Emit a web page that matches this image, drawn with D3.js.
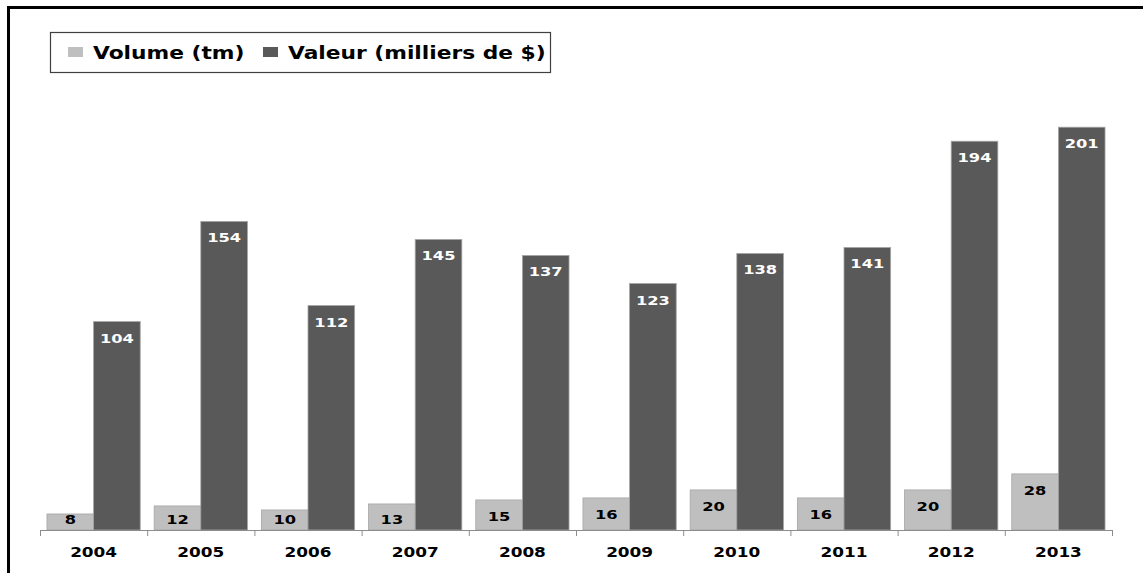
<!DOCTYPE html>
<html>
<head>
<meta charset="utf-8">
<script src="https://cdn.jsdelivr.net/npm/d3@7"></script>
<style>
  body { margin: 0; background: #fff; }
  text { font-family: "DejaVu Sans", sans-serif; font-weight: bold; }
</style>
</head>
<body>
<div id="chart"></div>
<script>
// data
const years = ["2004", "2005", "2006", "2007", "2008", "2009", "2010", "2011", "2012", "2013"];
const volume = [8, 12, 10, 13, 15, 16, 20, 16, 20, 28];
const valeur = [104, 154, 112, 145, 137, 123, 138, 141, 194, 201];
const seriesNames = ["Volume (tm)", "Valeur (milliers de $)"];
const seriesColors = ["#bfbfbf", "#595959"];

const width = 1143, height = 573;
const stretch = 1.25; // text in the source is drawn wide

const svg = d3.select("#chart").append("svg")
    .attr("width", width)
    .attr("height", height);

// frame (only top and left edges are visible)
svg.append("line").attr("x1", 7).attr("x2", width).attr("y1", 7.5).attr("y2", 7.5)
    .attr("stroke", "#000").attr("stroke-width", 3);
svg.append("line").attr("x1", 8.5).attr("x2", 8.5).attr("y1", 6).attr("y2", height)
    .attr("stroke", "#000").attr("stroke-width", 3);

const x = d3.scaleBand().domain(years).range([40, 1112])
    .paddingInner(0.13).paddingOuter(0.065);
const xs = d3.scaleBand().domain([0, 1]).range([0, x.bandwidth()]);
const y = d3.scaleLinear().domain([0, 250]).range([530, 29]);

const rows = years.map((yr, i) => ({ year: yr, values: [volume[i], valeur[i]] }));

const groups = svg.selectAll(".grp").data(rows).enter().append("g")
    .attr("class", "grp")
    .attr("transform", d => `translate(${x(d.year)},0)`);

groups.selectAll("rect").data(d => d.values).enter().append("rect")
    .attr("x", (d, i) => xs(i))
    .attr("y", d => y(d))
    .attr("width", xs.bandwidth())
    .attr("height", d => y(0) - y(d))
    .attr("fill", (d, i) => seriesColors[i])
    .attr("stroke", "#a6a6a6")
    .attr("stroke-width", 0.8);

function wideText(sel, fx, fy, size) {
    return sel.attr("transform", (d, i) => `translate(${fx(d, i)},${fy(d, i)}) scale(${stretch},1)`)
        .attr("font-size", size);
}

// value labels inside the bars
groups.selectAll(".lbl").data(d => d.values).enter().append("text")
    .attr("class", "lbl")
    .attr("text-anchor", "middle")
    .attr("fill", (d, i) => i === 0 ? "#000" : "#fff")
    .call(wideText, (d, i) => xs(i) + xs.bandwidth() / 2,
        d => Math.min(y(d) + 21, 524), 13)
    .text(d => d);

// x axis
const step = x.step();
const axis = svg.append("g");
axis.append("line").attr("x1", 40).attr("x2", 1112).attr("y1", 530.5).attr("y2", 530.5)
    .attr("stroke", "#8c8c8c");
axis.selectAll(".tk").data(d3.range(years.length + 1)).enter().append("line")
    .attr("x1", i => 40 + i * step + 0.5).attr("x2", i => 40 + i * step + 0.5)
    .attr("y1", 530).attr("y2", 536)
    .attr("stroke", "#8c8c8c");
axis.selectAll(".yl").data(years).enter().append("text")
    .attr("text-anchor", "middle")
    .attr("fill", "#000")
    .call(wideText, d => x(d) + x.bandwidth() / 2, () => 557, 13.5)
    .text(d => d);

// legend
const leg = svg.append("g");
leg.append("rect").attr("x", 50.5).attr("y", 32.5).attr("width", 500).attr("height", 40)
    .attr("fill", "#fff").attr("stroke", "#404040").attr("stroke-width", 1.2);
const legX = [68, 263];
seriesNames.forEach((name, i) => {
    leg.append("rect").attr("x", legX[i]).attr("y", 47).attr("width", 15).attr("height", 10)
        .attr("fill", seriesColors[i]);
    leg.append("text")
        .attr("transform", `translate(${legX[i] + 25},59) scale(1.28,1)`)
        .attr("font-size", 17)
        .attr("fill", "#000")
        .text(name);
});
</script>
</body>
</html>
